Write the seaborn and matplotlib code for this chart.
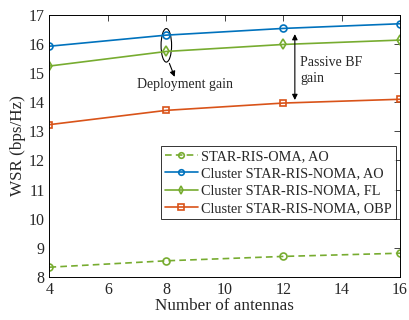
import numpy as np
import pandas as pd
import seaborn as sns
import matplotlib
matplotlib.use("Agg")
import matplotlib.pyplot as plt
from matplotlib.patches import Ellipse

antennas = [4, 8, 12, 16]
oma_ao = [8.34, 8.56, 8.71, 8.82]
noma_ao = [15.92, 16.30, 16.53, 16.69]
noma_fl = [15.24, 15.74, 15.98, 16.13]
noma_obp = [13.23, 13.72, 13.97, 14.10]
labels = ["STAR-RIS-OMA, AO", "Cluster STAR-RIS-NOMA, AO",
          "Cluster STAR-RIS-NOMA, FL", "Cluster STAR-RIS-NOMA, OBP"]

sns.set_style("white")
plt.rcParams['font.family'] = ['Liberation Serif', 'DejaVu Serif']
plt.rcParams['mathtext.fontset'] = 'stix'

df = pd.DataFrame({
    "N": antennas * 4,
    "WSR": oma_ao + noma_ao + noma_fl + noma_obp,
    "Scheme": sum([[l] * 4 for l in labels], []),
})

colors = ["#77AC30", "#0072BD", "#77AC30", "#D95319"]
markers = ["o", "o", "d", "s"]
dashes = [(4, 2.5), "", "", ""]

fig = plt.figure(figsize=(4.09, 3.2), dpi=100)
ax = fig.add_axes([0.121, 0.134, 0.857, 0.820])

sns.lineplot(data=df, x="N", y="WSR", hue="Scheme", style="Scheme",
             palette=colors, markers=markers, dashes=dashes,
             hue_order=labels, style_order=labels, ax=ax,
             linewidth=1.2, markersize=5, markerfacecolor="none",
             markeredgewidth=1.2)
for ln, c in zip(ax.get_lines(), colors):
    ln.set_markeredgecolor(c)
    ln.set_markerfacecolor("none")

ax.set_xlim(4, 16)
ax.set_ylim(8, 17)
ax.set_xticks([4, 6, 8, 10, 12, 14, 16])
ax.set_yticks(range(8, 18))
ax.tick_params(direction="in", top=True, right=True, labelsize=11.5, length=4, width=0.6)
for s in ax.spines.values():
    s.set_linewidth(0.7)
    s.set_color("black")
ax.set_xlabel("Number of antennas", fontsize=12.3, labelpad=0)
ax.set_ylabel("WSR (bps/Hz)", fontsize=12.3, labelpad=2)

leg = ax.legend(loc="lower right", bbox_to_anchor=(0.99, 0.221), fontsize=10.3,
                frameon=True, fancybox=False, edgecolor="black",
                handlelength=2.3, handletextpad=0.25, borderpad=0.3,
                labelspacing=0.3, borderaxespad=0)
leg.get_frame().set_linewidth(0.7)
for h, c in zip(leg.get_lines(), colors):
    h.set_markeredgecolor(c)
    h.set_markerfacecolor("none")
    h.set_markersize(4)

# annotations
ax.add_patch(Ellipse((8.0, 15.95), 0.36, 1.15, fill=False, color="black", lw=0.8))
ax.annotate("", xy=(8.32, 14.78), xytext=(8.07, 15.42),
            arrowprops=dict(arrowstyle="-|>", color="black", lw=0.8, mutation_scale=8))
ax.text(8.63, 14.62, "Deployment gain", fontsize=10, ha="center", va="center")
ax.annotate("", xy=(12.4, 16.43), xytext=(12.4, 13.98),
            arrowprops=dict(arrowstyle="<|-|>", color="black", lw=0.8, mutation_scale=8))
ax.text(12.58, 15.1, "Passive BF\ngain", fontsize=10, ha="left", va="center",
        linespacing=1.3)

fig.savefig("out.png", dpi=100)
